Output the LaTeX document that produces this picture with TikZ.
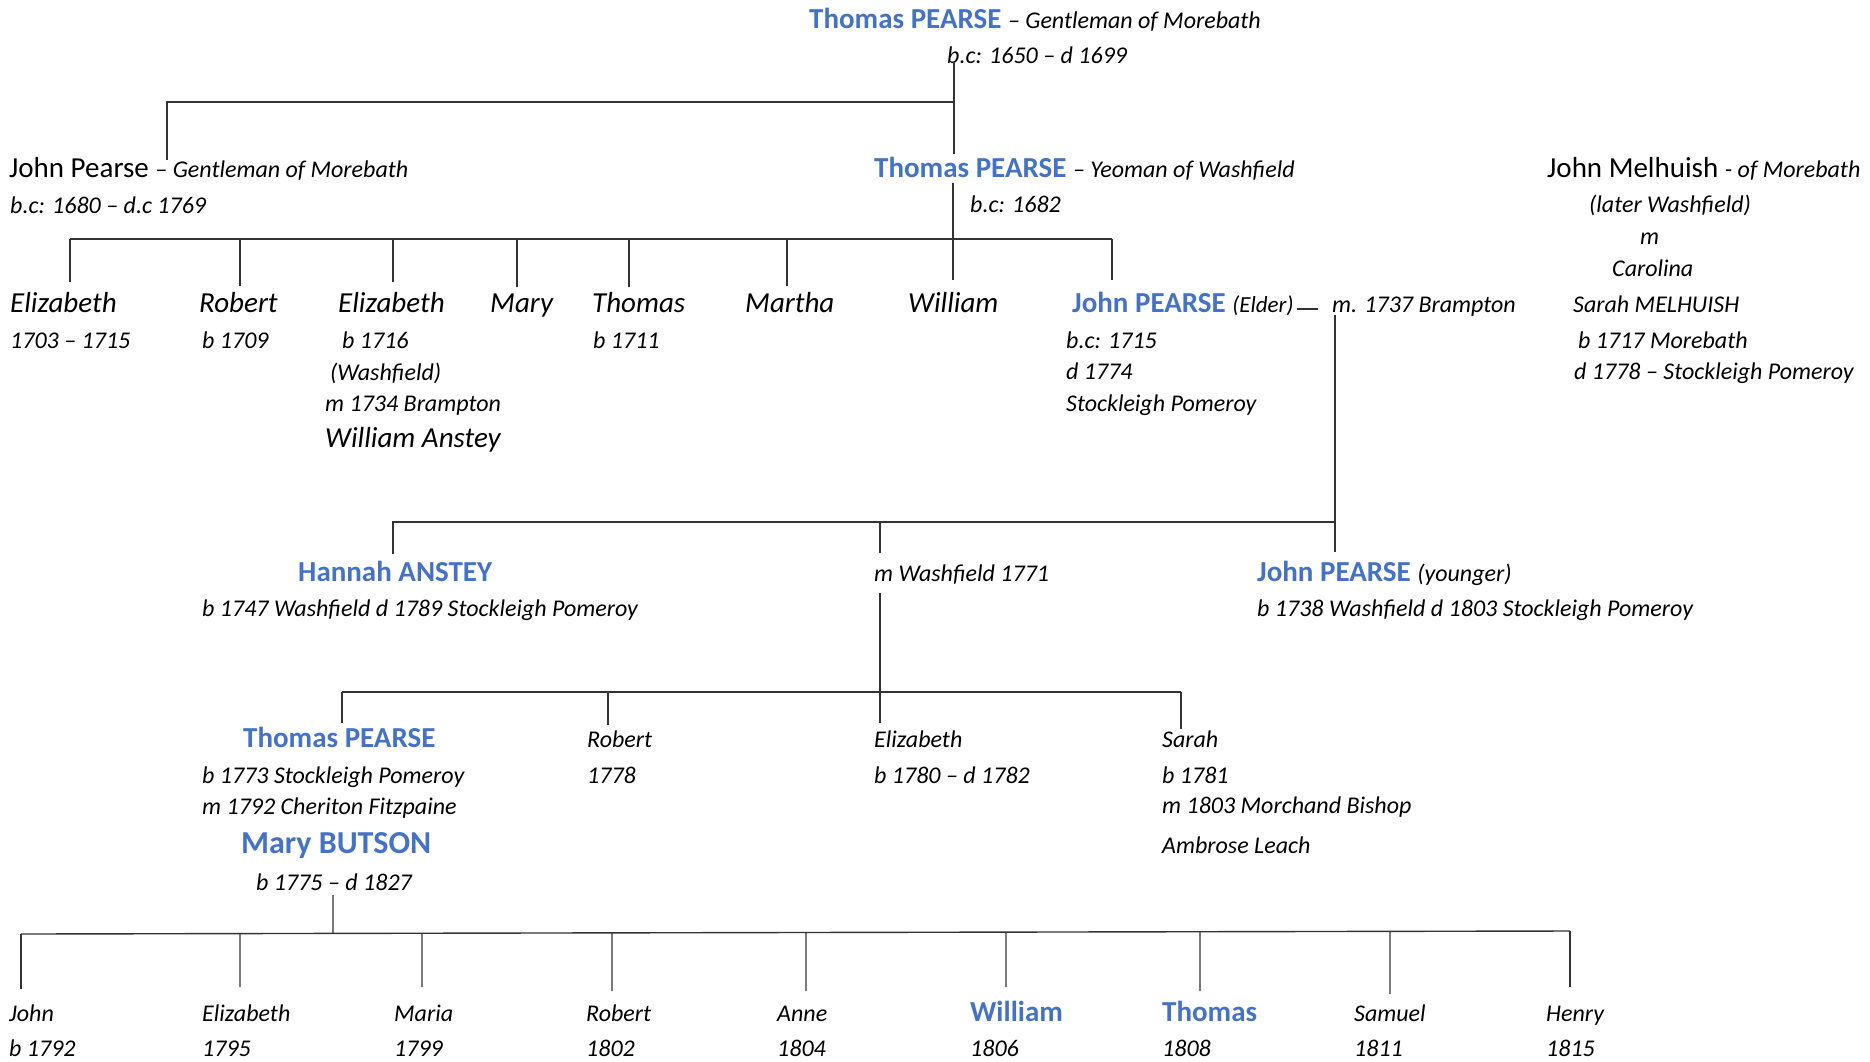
\documentclass[tikz,border=0pt]{standalone}
\usepackage{fontspec}
\setmainfont{Carlito}
\usetikzlibrary{calc}
\definecolor{pblue}{HTML}{4472C4}
\newcommand\sideit[2][24]{{\color{black}\fontsize{#1}{#1}\mdseries\itshape #2}}
\begin{document}
\begin{tikzpicture}[x=1pt, y=-1pt,
        every node/.style={anchor=base west, inner sep=0pt},
        link/.style={line width=1.4pt, draw=black!80},
        blue/.style={font=\fontsize{29}{34}\selectfont\bfseries, text=pblue},
        upr/.style={font=\fontsize{29}{34}\selectfont},
        kid/.style={font=\fontsize{29}{33}\selectfont\itshape},
        info/.style={font=\fontsize{24}{28}\selectfont\itshape}]
        \useasboundingbox (0,0) rectangle (1870,1061);

        \node[blue] (tpA) at (809, 28) {Thomas PEARSE \sideit{– Gentleman of Morebath}};
        \node[info] (tpAd) at (947, 63) {b.c: 1650 – d 1699};

        \node[upr] (jpA) at (9, 177) {John Pearse \sideit{– Gentleman of Morebath}};
        \node[info] (jpAd) at (10, 213) {b.c: 1680 – d.c 1769};
        \node[blue] (tpB) at (874, 177) {Thomas PEARSE \sideit{– Yeoman of Washfield}};
        \node[info] (tpBd) at (970, 212) {b.c: 1682};
        \node[upr] (jmA) at (1547, 177) {John Melhuish \sideit{- of Morebath}};
        \node[info] (jmAa) at (1589, 212) {(later Washfield)};
        \node[info] (jmAm) at (1640, 244) {m};
        \node[info] (jmAc) at (1612, 276) {Carolina};
        \node[info] (smB) at (1573, 312) {Sarah MELHUISH};
        \node[info] (smBb) at (1578, 348) {b 1717 Morebath};
        \node[info] (smBd) at (1574, 379) {d 1778 – Stockleigh Pomeroy};

        \node[kid] (elizB) at (10, 312) {Elizabeth};
        \node[info] (elizBd) at (10, 348) {1703 – 1715};
        \node[kid] (robB) at (199, 312) {Robert};
        \node[info] (robBd) at (202, 348) {b 1709};
        \node[kid] (elizC) at (338, 312) {Elizabeth};
        \node[info] (elizCd) at (342, 348) {b 1716};
        \node[info] (elizCw) at (330, 380) {(Washfield)};
        \node[info] (elizCm) at (325, 411) {m 1734 Brampton};
        \node[kid] (waB) at (325, 447) {William Anstey};
        \node[kid] (maryB) at (490, 312) {Mary};
        \node[kid] (thomB) at (592, 312) {Thomas};
        \node[info] (thomBd) at (593, 348) {b 1711};
        \node[kid] (marthaB) at (745, 312) {Martha};
        \node[kid] (willB) at (908, 312) {William};
        \node[blue] (jpE) at (1072, 312) {John PEARSE \sideit[23]{(Elder)}};
        \node[info] (marA) at (1332, 312) {m. 1737 Brampton};
        \node[info] (jpEb) at (1066, 348) {b.c: 1715};
        \node[info] (jpEd) at (1066, 379) {d 1774};
        \node[info] (jpEp) at (1066, 411) {Stockleigh Pomeroy};

        \node[blue] (hannah) at (298, 581) {Hannah ANSTEY};
        \node[info] (hannahd) at (202, 616) {b 1747 Washfield d 1789 Stockleigh Pomeroy};
        \node[info] (marB) at (874, 581) {m Washfield 1771};
        \node[blue] (jpY) at (1257, 581) {John PEARSE \sideit{(younger)}};
        \node[info] (jpYd) at (1257, 616) {b 1738 Washfield d 1803 Stockleigh Pomeroy};

        \node[blue] (tpD) at (243, 747) {Thomas PEARSE};
        \node[info] (tpDb) at (202, 783) {b 1773 Stockleigh Pomeroy};
        \node[info] (tpDm) at (202, 814) {m 1792 Cheriton Fitzpaine};
        \node[blue, font=\fontsize{32}{36}\selectfont\bfseries] (mbD) at (241, 853) {Mary BUTSON};
        \node[info] (mbDd) at (256, 890) {b 1775 – d 1827};
        \node[info] (robD) at (587, 747) {Robert};
        \node[info] (robDd) at (587, 783) {1778};
        \node[info] (elizD) at (874, 747) {Elizabeth};
        \node[info] (elizDd) at (874, 783) {b 1780 – d 1782};
        \node[info] (sarahD) at (1162, 747) {Sarah};
        \node[info] (sarahDb) at (1162, 783) {b 1781};
        \node[info] (sarahDm) at (1162, 813) {m 1803 Morchand Bishop};
        \node[info] (sarahDa) at (1162, 853) {Ambrose Leach};

        \foreach \nm/\x/\who/\yr/\st in {johnE/9/John/b 1792/info, elizE/202/Elizabeth/1795/info,
                mariaE/394/Maria/1799/info, robE/586/Robert/1802/info, anneE/777/Anne/1804/info,
                willE/970/William/1806/blue, thomE/1162/Thomas/1808/blue,
                samE/1354/Samuel/1811/info, henE/1546/Henry/1815/info}
        {
            \node[\st] (\nm) at (\x, 1021) {\who};
            \node[info] (\nm d) at (\x, 1056) {\yr};
        }

        \coordinate (r0t) at (954, 62);
        \coordinate (r0b) at (954, 154);
        \coordinate (r0l) at (167, 102);
        \coordinate (r0d) at (167, 160);
        \coordinate (r1t) at (953, 183);
        \coordinate (r1b) at (953, 280);
        \coordinate (g1l) at (70, 239);
        \coordinate (g1r) at (1112, 239);
        \coordinate (dshA) at (1297, 309);
        \coordinate (dshB) at (1318, 309);
        \coordinate (r2t) at (1335, 315);
        \coordinate (r2b) at (1335, 552);
        \coordinate (g2l) at (393, 522);
        \coordinate (g2d) at (393, 554);
        \coordinate (g2m) at (880, 522);
        \coordinate (g2n) at (880, 553);
        \coordinate (r3t) at (880, 593);
        \coordinate (r3b) at (880, 723);
        \coordinate (g3l) at (342, 692);
        \coordinate (g3r) at (1181, 692);
        \coordinate (r4t) at (333, 895);
        \coordinate (g4l) at (21, 934);
        \coordinate (g4r) at (1570, 931);

        \draw[link] (r0t) -- (r0b);
        \draw[link] (r0d) -- (r0l) -- (r0l -| r0t);
        \draw[link] (r1t) -- (r1b);
        \draw[link] (g1l) -- (g1r);
        \foreach \x/\y in {70/282, 240/286, 393/282, 517/287, 629/287, 787/286, 1112/280}
            \draw[link] (\x, 239) -- (\x, \y);
        \draw[link] (dshA) -- (dshB);
        \draw[link] (r2t) -- (r2b);
        \draw[link] (g2d) -- (g2l) -- (g2l -| r2t);
        \draw[link] (g2m) -- (g2n);
        \draw[link] (r3t) -- (r3b);
        \draw[link] (g3l) -- (g3r);
        \foreach \x/\y in {342/723, 608/725, 1181/729}
            \draw[link] (\x, 692) -- (\x, \y);
        \draw[link] (r4t) -- ($(g4l)!{(333-21)/1549}!(g4r)$);
        \draw[link] (g4l) -- (g4r);
        \foreach \x/\y in {21/989, 240/987, 422/987, 612/991, 806/991, 1006/987, 1200/991, 1390/994, 1570/987}
            \draw[link] ($(g4l)!{(\x-21)/1549}!(g4r)$) -- (\x, \y);

    \end{tikzpicture}
\end{document}
